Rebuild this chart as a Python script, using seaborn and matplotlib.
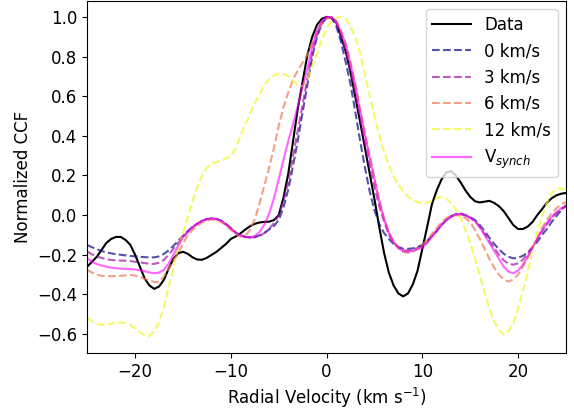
import numpy as np
import pandas as pd
import matplotlib
matplotlib.use("Agg")
import matplotlib.pyplot as plt
import seaborn as sns

# radial velocity grid (km/s), every 0.5 km/s from -25 to 25
velocity = np.arange(-25, 25.01, 0.5)

data_ccf = [-0.26, -0.235, -0.21, -0.175, -0.14, -0.12, -0.11, -0.11, -0.125, -0.15,
            -0.20, -0.26, -0.32, -0.355, -0.372, -0.36, -0.327, -0.27, -0.22, -0.192,
            -0.185, -0.195, -0.213, -0.224, -0.225, -0.215, -0.20, -0.185, -0.165, -0.145,
            -0.12, -0.108, -0.092, -0.073, -0.056, -0.044, -0.037, -0.034, -0.033, -0.025,
            0.0, 0.09, 0.21, 0.375, 0.54, 0.675, 0.81, 0.90, 0.96, 0.99,
            1.0, 0.995, 0.975, 0.90, 0.825, 0.72, 0.595, 0.47, 0.34, 0.21,
            0.08, -0.06, -0.19, -0.29, -0.355, -0.395, -0.41, -0.395, -0.35, -0.28,
            -0.17, -0.06, 0.055, 0.125, 0.18, 0.215, 0.222, 0.20, 0.165, 0.125,
            0.092, 0.07, 0.064, 0.068, 0.072, 0.062, 0.045, 0.02, -0.015, -0.05,
            -0.07, -0.07, -0.058, -0.035, 0.0, 0.03, 0.062, 0.085, 0.10, 0.108,
            0.112]

ccf_0 = [-0.151, -0.162, -0.172, -0.181, -0.188, -0.193, -0.197, -0.20, -0.203, -0.206,
         -0.208, -0.21, -0.212, -0.213, -0.213, -0.208, -0.196, -0.178, -0.155, -0.13,
         -0.105, -0.08, -0.06, -0.044, -0.03, -0.02, -0.017, -0.019, -0.028, -0.045,
         -0.065, -0.088, -0.102, -0.11, -0.112, -0.11, -0.102, -0.09, -0.072, -0.055,
         -0.025, 0.04, 0.13, 0.25, 0.38, 0.52, 0.66, 0.80, 0.90, 0.965,
         0.997, 0.997, 0.955, 0.875, 0.77, 0.66, 0.52, 0.375, 0.24, 0.12,
         0.025, -0.045, -0.09, -0.12, -0.145, -0.16, -0.17, -0.17, -0.168, -0.16,
         -0.15, -0.13, -0.105, -0.08, -0.05, -0.025, -0.005, 0.005, 0.008, 0.0,
         -0.01, -0.025, -0.05, -0.08, -0.115, -0.145, -0.172, -0.195, -0.21, -0.218,
         -0.215, -0.205, -0.19, -0.165, -0.135, -0.10, -0.07, -0.035, -0.005, 0.025,
         0.05]

ccf_3 = [-0.184, -0.198, -0.208, -0.216, -0.222, -0.226, -0.228, -0.229, -0.23, -0.232,
         -0.235, -0.238, -0.242, -0.245, -0.246, -0.24, -0.226, -0.20, -0.17, -0.14,
         -0.11, -0.083, -0.06, -0.042, -0.028, -0.02, -0.017, -0.02, -0.03, -0.047,
         -0.067, -0.088, -0.102, -0.11, -0.113, -0.112, -0.105, -0.09, -0.07, -0.04,
         0.0, 0.07, 0.17, 0.30, 0.43, 0.56, 0.69, 0.82, 0.91, 0.97,
         0.997, 0.997, 0.97, 0.91, 0.83, 0.73, 0.62, 0.495, 0.37, 0.25,
         0.14, 0.045, -0.03, -0.10, -0.14, -0.165, -0.177, -0.18, -0.175, -0.165,
         -0.155, -0.135, -0.105, -0.078, -0.05, -0.025, -0.008, 0.003, 0.006, 0.0,
         -0.012, -0.03, -0.06, -0.095, -0.13, -0.165, -0.20, -0.228, -0.245, -0.25,
         -0.243, -0.225, -0.195, -0.16, -0.12, -0.08, -0.045, -0.015, 0.01, 0.03,
         0.045]

ccf_6 = [-0.276, -0.29, -0.30, -0.306, -0.308, -0.308, -0.307, -0.306, -0.304, -0.302,
         -0.305, -0.312, -0.322, -0.33, -0.337, -0.338, -0.31, -0.27, -0.23, -0.19,
         -0.145, -0.10, -0.075, -0.053, -0.037, -0.027, -0.022, -0.025, -0.035, -0.05,
         -0.075, -0.095, -0.108, -0.105, -0.075, -0.02, 0.06, 0.15, 0.24, 0.34,
         0.45, 0.545, 0.62, 0.685, 0.73, 0.77, 0.81, 0.87, 0.925, 0.965,
         0.99, 1.0, 0.98, 0.93, 0.865, 0.77, 0.66, 0.535, 0.415, 0.30,
         0.185, 0.075, -0.015, -0.085, -0.135, -0.165, -0.185, -0.19, -0.185, -0.17,
         -0.15, -0.125, -0.095, -0.065, -0.038, -0.015, -0.003, 0.0, -0.003, -0.015,
         -0.035, -0.075, -0.12, -0.17, -0.22, -0.265, -0.30, -0.325, -0.335, -0.325,
         -0.30, -0.26, -0.215, -0.165, -0.115, -0.065, -0.025, 0.01, 0.035, 0.055,
         0.065]

ccf_12 = [-0.519, -0.535, -0.548, -0.553, -0.552, -0.547, -0.542, -0.541, -0.545, -0.555,
          -0.572, -0.59, -0.606, -0.61, -0.585, -0.54, -0.465, -0.36, -0.265, -0.165,
          -0.09, -0.01, 0.07, 0.142, 0.20, 0.24, 0.258, 0.268, 0.276, 0.285,
          0.30, 0.335, 0.40, 0.455, 0.51, 0.565, 0.61, 0.655, 0.687, 0.705,
          0.713, 0.714, 0.70, 0.677, 0.655, 0.65, 0.69, 0.75, 0.815, 0.885,
          0.94, 0.98, 0.995, 1.0, 0.99, 0.95, 0.895, 0.82, 0.71, 0.60,
          0.50, 0.40, 0.32, 0.25, 0.195, 0.155, 0.12, 0.093, 0.077, 0.065,
          0.06, 0.063, 0.072, 0.085, 0.092, 0.083, 0.062, 0.03, -0.015, -0.075,
          -0.14, -0.22, -0.305, -0.39, -0.47, -0.535, -0.58, -0.603, -0.585, -0.544,
          -0.47, -0.385, -0.29, -0.18, -0.09, -0.005, 0.06, 0.11, 0.132, 0.134,
          0.125]

ccf_synch = [-0.218, -0.235, -0.247, -0.254, -0.26, -0.265, -0.268, -0.27, -0.271, -0.272,
             -0.274, -0.278, -0.283, -0.289, -0.293, -0.29, -0.276, -0.245, -0.20, -0.155,
             -0.113, -0.085, -0.062, -0.042, -0.028, -0.02, -0.017, -0.02, -0.03, -0.048,
             -0.068, -0.088, -0.102, -0.11, -0.111, -0.105, -0.085, -0.048, 0.008, 0.085,
             0.18, 0.28, 0.375, 0.46, 0.55, 0.65, 0.74, 0.85, 0.93, 0.98,
             1.0, 0.998, 0.975, 0.925, 0.86, 0.76, 0.65, 0.525, 0.405, 0.29,
             0.18, 0.07, -0.02, -0.09, -0.135, -0.165, -0.182, -0.185, -0.18, -0.172,
             -0.165, -0.14, -0.11, -0.08, -0.05, -0.025, -0.008, 0.003, 0.005, -0.003,
             -0.015, -0.03, -0.06, -0.10, -0.14, -0.18, -0.22, -0.26, -0.285, -0.293,
             -0.28, -0.25, -0.21, -0.165, -0.12, -0.08, -0.04, -0.01, 0.015, 0.035,
             0.045]

model_labels = ["0 km/s", "3 km/s", "6 km/s", "12 km/s"]
model_series = [ccf_0, ccf_3, ccf_6, ccf_12]

fig, ax = plt.subplots(figsize=(5.74, 4.13), dpi=100)
fig.subplots_adjust(left=0.152, right=0.986, bottom=0.145, top=0.998)

sns.lineplot(x=velocity, y=data_ccf, ax=ax, color="black", linewidth=1.5, label="Data")
colors = plt.cm.plasma(np.linspace(0, 1, len(model_labels)))
for lab, ser, c in zip(model_labels, model_series, colors):
    sns.lineplot(x=velocity, y=ser, ax=ax, color=c, alpha=0.7, linestyle="--",
                 linewidth=1.5, label=lab)
sns.lineplot(x=velocity, y=ccf_synch, ax=ax, color="magenta", alpha=0.6,
             linewidth=1.5, label=r"V$_{synch}$")

ax.set_xlim(-25, 25)
ax.set_ylim(-0.696, 1.081)
ax.set_xticks([-20, -10, 0, 10, 20])
ax.set_yticks([-0.6, -0.4, -0.2, 0.0, 0.2, 0.4, 0.6, 0.8, 1.0])
ax.tick_params(labelsize=12)
ax.set_xlabel(r"Radial Velocity (km s$^{-1}$)", fontsize=12)
ax.set_ylabel("Normalized CCF", fontsize=12)
ax.legend(loc="upper right", fontsize=12, handlelength=2.3)

fig.savefig("out.png", dpi=100)
